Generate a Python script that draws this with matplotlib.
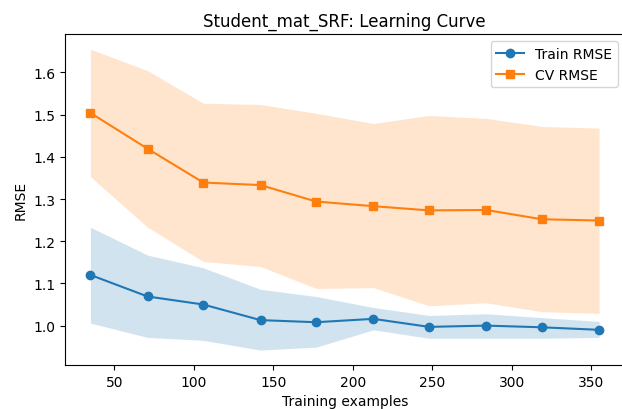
import matplotlib
matplotlib.use("Agg")
import matplotlib.pyplot as plt
import numpy as np

# learning curve values
train_sizes = [35, 71, 106, 142, 177, 213, 248, 284, 319, 355]

train_rmse = [1.120, 1.069, 1.050, 1.013, 1.008, 1.016, 0.997, 1.000, 0.996, 0.990]
train_upper = [1.233, 1.167, 1.137, 1.086, 1.069, 1.043, 1.024, 1.028, 1.019, 1.010]
train_lower = [1.006, 0.972, 0.965, 0.942, 0.949, 0.990, 0.970, 0.970, 0.970, 0.972]

cv_rmse = [1.504, 1.419, 1.339, 1.333, 1.294, 1.283, 1.273, 1.274, 1.252, 1.249]
cv_upper = [1.655, 1.604, 1.527, 1.524, 1.503, 1.479, 1.498, 1.491, 1.472, 1.468]
cv_lower = [1.353, 1.233, 1.152, 1.140, 1.088, 1.090, 1.047, 1.054, 1.033, 1.029]

fig = plt.figure(figsize=(6.22, 4.10), dpi=100)
ax = fig.add_axes([0.1045, 0.107, 0.8995, 0.8073])

ax.fill_between(train_sizes, train_lower, train_upper, color="tab:blue", alpha=0.2, linewidth=0)
ax.fill_between(train_sizes, cv_lower, cv_upper, color="tab:orange", alpha=0.2, linewidth=0)
ax.plot(train_sizes, train_rmse, "o-", color="tab:blue", label="Train RMSE")
ax.plot(train_sizes, cv_rmse, "s-", color="tab:orange", label="CV RMSE")

ax.set_title("Student_mat_SRF: Learning Curve")
ax.set_xlabel("Training examples")
ax.set_ylabel("RMSE")
ax.legend(loc="upper right")

fig.savefig("out.png", dpi=100)
